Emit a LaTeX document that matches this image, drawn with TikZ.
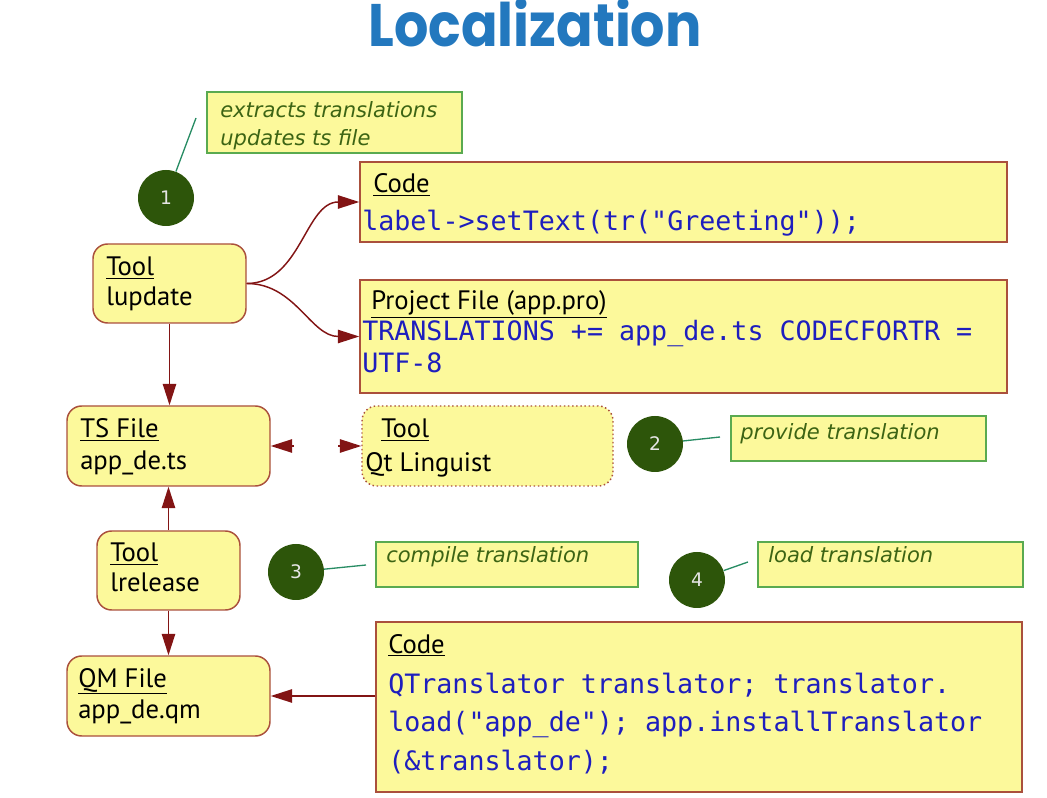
\documentclass[tikz,border=0pt]{standalone}
\usepackage{fontspec}
\usepackage{graphicx}
\setmainfont{PT Sans}
\newfontfamily\notefont{DejaVu Sans}
\newfontfamily\codefont{DejaVu Sans Mono}
\newfontfamily\titlefont{Poppins}
\usetikzlibrary{arrows.meta,fit}
\definecolor{boxfill}{RGB}{252,249,155}
\definecolor{boxline}{RGB}{170,80,60}
\definecolor{arr}{RGB}{130,20,20}
\definecolor{notegreen}{RGB}{90,170,80}
\definecolor{notetext}{RGB}{60,100,20}
\definecolor{circfill}{RGB}{45,85,10}
\definecolor{codeblue}{RGB}{30,30,190}
\definecolor{titleblue}{RGB}{35,120,190}
\definecolor{leader}{RGB}{40,140,100}
\tikzset{
 rbox/.style={draw=boxline, fill=boxfill, line width=1.1pt, rounded corners=11pt, inner sep=0pt},
 sbox/.style={draw=boxline, fill=boxfill, line width=1.1pt, inner sep=0pt},
 dbox/.style={rbox, dotted},
 notebox/.style={draw=notegreen, fill=boxfill, line width=1.1pt, inner sep=0pt},
 txt/.style={anchor=base west, inner sep=0pt, font=\fontsize{20}{22}\selectfont},
 codetxt/.style={anchor=base west, inner sep=0pt, text=codeblue, font=\codefont\fontsize{20}{22}\selectfont},
 notetxt/.style={anchor=base west, inner sep=0pt, text=notetext, font=\notefont\itshape\fontsize{15.8}{18}\selectfont},
 num/.style={circle, fill=circfill, minimum size=42pt, inner sep=0pt, text=white!90!black, font=\notefont\fontsize{14}{16}\selectfont},
 flow/.style={draw=arr, line width=1.1pt, -{Triangle[length=16pt,width=10pt]}},
 leaderline/.style={draw=leader, line width=1pt},
}
\begin{document}
\begin{tikzpicture}[x=0.75pt,y=-0.75pt]
\useasboundingbox (0,0) rectangle (1047,798);
\node[anchor=base, text=titleblue, inner sep=0pt] (title) at (535,47) {\scalebox{0.9}[1]{\titlefont\bfseries\fontsize{45}{50}\selectfont Localization}};

% note 1
\node[notebox, fit={(207,92)(462,153)}] (note1) {};
\node[notetxt] (n1a) at (220,118) {extracts translations};
\node[notetxt] (n1b) at (220,146) {updates ts file};
\node[num] (c1) at (166,198) {1};
\coordinate (l1) at (196,118);
\draw[leaderline] (c1) -- (l1);

% lupdate
\node[rbox, fit={(93,244)(246,323)}] (lupdate) {};
\node[txt] (lupa) at (106,276) {\underline{Tool}};
\node[txt] (lupb) at (106,306) {lupdate};

% code 1
\node[sbox, fit={(360,162)(1007,242)}] (code1) {};
\node[txt] (c1a) at (373,193) {\underline{Code}};
\node[codetxt] (c1b) at (362,231) {label->setText(tr("Greeting"));};

% project
\node[sbox, fit={(360,280)(1007,393)}] (proj) {};
\node[txt] (pa) at (371,310) {\underline{Project File (app.pro)}};
\node[codetxt] (pb) at (362,341) {TRANSLATIONS += app\_de.ts CODECFORTR =};
\node[codetxt] (pc) at (362,373) {UTF-8};

% TS file
\node[rbox, fit={(67,406)(270,486)}] (ts) {};
\node[txt] (tsa) at (80,438) {\underline{TS File}};
\node[txt] (tsb) at (80,470) {app\_de.ts};

% Qt Linguist
\node[dbox, fit={(362,406)(613,486)}] (ql) {};
\node[txt] (qla) at (381,438) {\underline{Tool}};
\node[txt] (qlb) at (365,472) {Qt Linguist};

% note 2
\node[notebox, fit={(731,416)(986,461)}] (note2) {};
\node[notetxt] (n2) at (740,440) {provide translation};
\node[num] (c2) at (655,444) {2};
\coordinate (l2) at (720,437);
\draw[leaderline] (c2) -- (l2);

% lrelease
\node[rbox, fit={(97,531)(240,610)}] (lrel) {};
\node[txt] (lra) at (110,562) {\underline{Tool}};
\node[txt] (lrb) at (110,592) {lrelease};

% note 3
\node[notebox, fit={(376,542)(638,587)}] (note3) {};
\node[notetxt] (n3) at (386,563) {compile translation};
\node[num] (c3) at (296,572) {3};
\coordinate (l3) at (366,565);
\draw[leaderline] (c3) -- (l3);

% note 4
\node[notebox, fit={(758,542)(1023,587)}] (note4) {};
\node[notetxt] (n4) at (768,563) {load translation};
\node[num] (c4) at (697,580) {4};
\coordinate (l4) at (748,562);
\draw[leaderline] (c4) -- (l4);

% QM file
\node[rbox, fit={(67,656)(270,736)}] (qm) {};
\node[txt] (qma) at (78,687) {\underline{QM File}};
\node[txt] (qmb) at (78,718) {app\_de.qm};

% code 2
\node[sbox, fit={(376,622)(1022,792)}] (code2) {};
\node[txt] (c2a) at (388,653) {\underline{Code}};
\node[codetxt] (c2b) at (388,693) {QTranslator translator; translator.};
\node[codetxt] (c2c) at (388,731) {load("app\_de"); app.installTranslator};
\node[codetxt] (c2d) at (388,770) {(\&translator);};

% connectors
\draw[flow] (lupdate.east) to[out=0,in=180] (code1.west);
\draw[flow] (lupdate.east) to[out=0,in=180] (proj.west);
\draw[flow] (lupdate.south) -- (lupdate.south |- ts.north);
\draw[flow] (lrel.north) -- (lrel.north |- ts.south);
\draw[flow] (lrel.south) -- (lrel.south |- qm.north);
\draw[flow] (code2.west |- qm.east) -- (qm.east);
\coordinate (dl) at (294,446);
\coordinate (dr) at (338,446);
\draw[flow] (dl) -- (ts.east);
\draw[flow] (dr) -- (ql.west);
\end{tikzpicture}
\end{document}
